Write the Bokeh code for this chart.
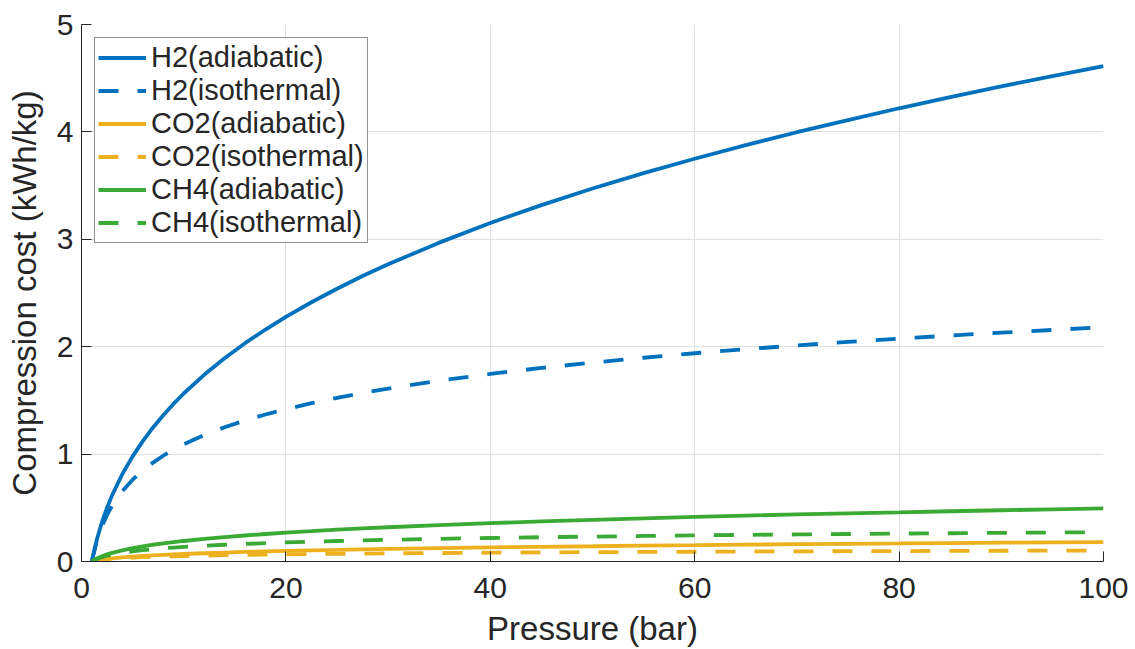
from bokeh.plotting import figure
from bokeh.models import Range1d, FixedTicker
from bokeh.embed import file_html
from bokeh.resources import INLINE

# Pressure (bar)
pressure = [1, 1.5, 2, 2.5, 3, 4, 5, 6, 7, 8, 9, 10, 12, 14, 16, 18, 20, 22.5, 25,
            27.5, 30, 35, 40, 45, 50, 55, 60, 65, 70, 75, 80, 85, 90, 95, 100]

# Compression cost (kWh/kg)
h2_adiabatic = [0.0, 0.205, 0.366, 0.501, 0.618, 0.815, 0.979, 1.121, 1.248, 1.362,
                1.467, 1.564, 1.738, 1.893, 2.033, 2.160, 2.278, 2.414, 2.540,
                2.658, 2.767, 2.969, 3.152, 3.318, 3.473, 3.616, 3.750, 3.877,
                3.997, 4.110, 4.220, 4.324, 4.424, 4.520, 4.612]
h2_isothermal = [0.0, 0.192, 0.328, 0.434, 0.520, 0.656, 0.762, 0.848, 0.921, 0.985,
                 1.040, 1.090, 1.177, 1.250, 1.313, 1.369, 1.418, 1.474, 1.524,
                 1.569, 1.610, 1.683, 1.747, 1.802, 1.852, 1.897, 1.939, 1.977,
                 2.012, 2.044, 2.075, 2.104, 2.131, 2.156, 2.181]
co2_adiabatic = [0.0, 0.010, 0.018, 0.024, 0.029, 0.038, 0.046, 0.052, 0.057, 0.062,
                 0.066, 0.070, 0.077, 0.083, 0.089, 0.094, 0.099, 0.104, 0.108,
                 0.113, 0.117, 0.124, 0.131, 0.137, 0.142, 0.148, 0.152, 0.157,
                 0.161, 0.165, 0.168, 0.172, 0.175, 0.178, 0.181]
co2_isothermal = [0.0, 0.009, 0.015, 0.020, 0.024, 0.031, 0.036, 0.040, 0.043, 0.046,
                  0.049, 0.051, 0.055, 0.059, 0.062, 0.064, 0.067, 0.069, 0.071,
                  0.074, 0.076, 0.079, 0.082, 0.085, 0.087, 0.089, 0.091, 0.093,
                  0.094, 0.096, 0.097, 0.099, 0.100, 0.101, 0.102]
ch4_adiabatic = [0.0, 0.028, 0.049, 0.066, 0.080, 0.104, 0.124, 0.141, 0.156, 0.169,
                 0.180, 0.191, 0.211, 0.227, 0.242, 0.256, 0.269, 0.282, 0.296,
                 0.308, 0.319, 0.339, 0.357, 0.373, 0.388, 0.402, 0.415, 0.427,
                 0.438, 0.449, 0.458, 0.468, 0.477, 0.486, 0.494]
ch4_isothermal = [0.0, 0.024, 0.041, 0.054, 0.065, 0.082, 0.095, 0.106, 0.115, 0.123,
                  0.130, 0.137, 0.147, 0.156, 0.164, 0.171, 0.178, 0.185, 0.191,
                  0.197, 0.202, 0.211, 0.219, 0.226, 0.232, 0.238, 0.243, 0.248,
                  0.252, 0.256, 0.260, 0.263, 0.267, 0.270, 0.273]

x_ticks = [0, 20, 40, 60, 80, 100]
y_ticks = [0, 1, 2, 3, 4, 5]

series = [
    ("H2(adiabatic)", h2_adiabatic, "#0072BD", "solid"),
    ("H2(isothermal)", h2_isothermal, "#0072BD", "20 19"),
    ("CO2(adiabatic)", co2_adiabatic, "#EDB120", "solid"),
    ("CO2(isothermal)", co2_isothermal, "#EDB120", "20 19"),
    ("CH4(adiabatic)", ch4_adiabatic, "#3AAA35", "solid"),
    ("CH4(isothermal)", ch4_isothermal, "#3AAA35", "20 19"),
]

FONT = "Liberation Sans"
TXT = "#262626"

p = figure(width=1135, height=649, output_backend="svg", toolbar_location=None,
           x_range=Range1d(0, 100), y_range=Range1d(0, 5),
           min_border_left=81, min_border_right=32, min_border_top=24,
           min_border_bottom=87)
p.outline_line_color = None
p.background_fill_color = "white"

for label, ys, color, dash in series:
    p.line(pressure, ys, line_color=color, line_width=3.8, line_dash=dash,
           legend_label=label)

for ax, ticks in ((p.xaxis, x_ticks), (p.yaxis, y_ticks)):
    ax.ticker = FixedTicker(ticks=ticks)
    ax.major_label_text_font = FONT
    ax.major_label_text_font_size = "30px"
    ax.major_label_text_color = TXT
    ax.axis_label_text_font = FONT
    ax.axis_label_text_font_size = "33px"
    ax.axis_label_text_font_style = "normal"
    ax.axis_label_text_color = TXT
    ax.axis_line_color = TXT
    ax.axis_line_width = 1
    ax.major_tick_line_color = TXT
    ax.major_tick_in = 10
    ax.major_tick_out = 0
    ax.minor_tick_line_color = None

p.xaxis.axis_label = "Pressure (bar)"
p.xaxis.major_label_standoff = 16
p.xaxis.axis_label_standoff = 9
p.yaxis.axis_label = "Compression cost (kWh/kg)"
p.yaxis.major_label_standoff = 8
p.yaxis.axis_label_standoff = 11

p.grid.grid_line_color = "#dfdfdf"
p.grid.grid_line_width = 1

lg = p.legend[0]
lg.location = "top_left"
lg.margin = 13
lg.padding = 3
lg.spacing = 0
lg.label_height = 31
lg.glyph_height = 31
lg.glyph_width = 48
lg.label_standoff = 5
lg.label_text_font = FONT
lg.label_text_font_size = "29px"
lg.label_text_color = TXT
lg.border_line_color = TXT
lg.border_line_width = 1
lg.background_fill_color = "white"
lg.background_fill_alpha = 1.0

open("out.html", "w").write(file_html(p, INLINE))
